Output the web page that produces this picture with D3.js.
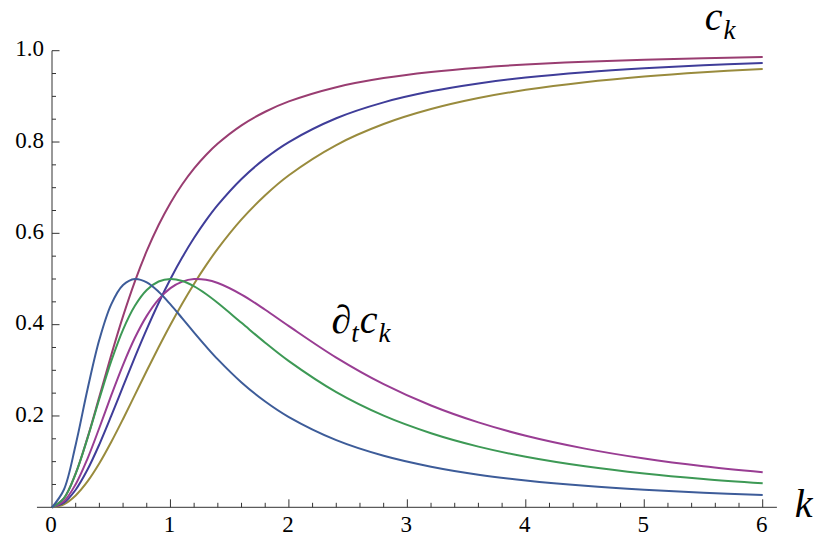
<!DOCTYPE html>
<html>
<head>
<meta charset="utf-8">
<script src="https://cdn.jsdelivr.net/npm/d3@7"></script>
</head>
<body style="margin:0;background:#fff">
<div id="wrap" style="position:relative;width:814px;height:536px;overflow:hidden">
<svg id="chart" width="814" height="536" style="position:absolute;left:0;top:0;display:block"></svg>
<div class="xlab" style="position:absolute;white-space:nowrap;font-family:'Liberation Serif';font-size:23px;line-height:1">0</div>
<div class="xlab" style="position:absolute;white-space:nowrap;font-family:'Liberation Serif';font-size:23px;line-height:1">1</div>
<div class="xlab" style="position:absolute;white-space:nowrap;font-family:'Liberation Serif';font-size:23px;line-height:1">2</div>
<div class="xlab" style="position:absolute;white-space:nowrap;font-family:'Liberation Serif';font-size:23px;line-height:1">3</div>
<div class="xlab" style="position:absolute;white-space:nowrap;font-family:'Liberation Serif';font-size:23px;line-height:1">4</div>
<div class="xlab" style="position:absolute;white-space:nowrap;font-family:'Liberation Serif';font-size:23px;line-height:1">5</div>
<div class="xlab" style="position:absolute;white-space:nowrap;font-family:'Liberation Serif';font-size:23px;line-height:1">6</div>
<div class="ylab" style="position:absolute;white-space:nowrap;font-family:'Liberation Serif';font-size:23px;line-height:1">0.2</div>
<div class="ylab" style="position:absolute;white-space:nowrap;font-family:'Liberation Serif';font-size:23px;line-height:1">0.4</div>
<div class="ylab" style="position:absolute;white-space:nowrap;font-family:'Liberation Serif';font-size:23px;line-height:1">0.6</div>
<div class="ylab" style="position:absolute;white-space:nowrap;font-family:'Liberation Serif';font-size:23px;line-height:1">0.8</div>
<div class="ylab" style="position:absolute;white-space:nowrap;font-family:'Liberation Serif';font-size:23px;line-height:1">1.0</div>
<div id="lab-ck" style="position:absolute;white-space:nowrap;font-family:'Liberation Serif';font-style:italic;font-size:40px;line-height:1">c<span style="position:relative;top:9px;font-size:27px;margin-left:1px">k</span></div>
<div id="lab-dtck" style="position:absolute;white-space:nowrap;font-family:'Liberation Serif';font-style:italic;font-size:40px;line-height:1">∂<span style="position:relative;top:9px;font-size:27px">t</span><span style="margin-left:1px">c</span><span style="position:relative;top:9px;font-size:27px;margin-left:1px">k</span></div>
<div id="lab-k" style="position:absolute;white-space:nowrap;font-family:'Liberation Serif';font-style:italic;font-size:40px;line-height:1">k</div>
</div>
<script>
// k values (x axis)
const kValues = [0, 0.1, 0.2, 0.3, 0.4, 0.5, 0.6, 0.7, 0.8, 0.9, 1.0, 1.1, 1.2, 1.3, 1.4,
  1.6, 1.8, 2.0, 2.4, 2.8, 3.2, 3.6, 4.0, 4.5, 5.0, 5.5, 6.0];

// c_k curves
const ckMagenta = [0, 0.0196, 0.0741, 0.1525, 0.2424, 0.3333, 0.4186, 0.4949, 0.5614, 0.6183, 0.6667,
  0.7076, 0.7423, 0.7717, 0.7967, 0.8366, 0.8663, 0.8889, 0.9201, 0.9400, 0.9534, 0.9629, 0.9697,
  0.9759, 0.9804, 0.9837, 0.9863];
const ckBlue = [0, 0.0099, 0.0385, 0.0826, 0.1379, 0.2, 0.2647, 0.3289, 0.3902, 0.4475, 0.5,
  0.5475, 0.5902, 0.6283, 0.6622, 0.7191, 0.7642, 0.8, 0.8521, 0.8869, 0.9110, 0.9284, 0.9412,
  0.9529, 0.9615, 0.9680, 0.9730];
const ckOlive = [0, 0.0066, 0.0260, 0.0566, 0.0964, 0.1429, 0.1935, 0.2462, 0.2991, 0.3506, 0.4,
  0.4465, 0.4898, 0.5298, 0.5665, 0.6305, 0.6835, 0.7273, 0.7934, 0.8394, 0.8722, 0.8963, 0.9143,
  0.9310, 0.9434, 0.9528, 0.9600];

// ∂t c_k curves
const dtBlue = [0, 0.0384, 0.1372, 0.2585, 0.3673, 0.4444, 0.4867, 0.4999, 0.4925, 0.4720, 0.4444,
  0.4138, 0.3826, 0.3524, 0.3239, 0.2734, 0.2316, 0.1975, 0.1470, 0.1128, 0.0889, 0.0714, 0.0588,
  0.0470, 0.0384, 0.0321, 0.0270];
const dtGreen = [0, 0.0196, 0.0740, 0.1516, 0.2378, 0.32, 0.3893, 0.4414, 0.4759, 0.4945, 0.5,
  0.4955, 0.4837, 0.4671, 0.4474, 0.4040, 0.3604, 0.32, 0.2521, 0.2006, 0.1622, 0.1329, 0.1107,
  0.0898, 0.0740, 0.0620, 0.0525];
const dtPurple = [0, 0.0131, 0.0506, 0.1068, 0.1742, 0.2450, 0.3121, 0.3712, 0.4193, 0.4554, 0.48,
  0.4943, 0.4998, 0.4982, 0.4912, 0.4659, 0.4327, 0.3967, 0.3278, 0.2696, 0.2229, 0.1859, 0.1567,
  0.1285, 0.1068, 0.0899, 0.0768];

const xTicks = [0, 1, 2, 3, 4, 5, 6];
const yTicks = [0.2, 0.4, 0.6, 0.8, 1.0];

const series = [
  { values: ckOlive, color: "#998b3d" },
  { values: ckBlue, color: "#3f3d99" },
  { values: ckMagenta, color: "#993d71" },
  { values: dtPurple, color: "#993d93" },
  { values: dtGreen, color: "#3d9955" },
  { values: dtBlue, color: "#3d5c99" }
];

const svg = d3.select("#chart");
const wrap = d3.select("#wrap");
const x = d3.scaleLinear().domain([0, 6]).range([52, 762.7]);
const y = d3.scaleLinear().domain([0, 1]).range([507.3, 50.7]);

const axisColor = "#333";

// axis lines
svg.append("line")
  .attr("x1", x(-0.127)).attr("x2", x(6.12))
  .attr("y1", y(0)).attr("y2", y(0))
  .attr("stroke", axisColor).attr("stroke-width", 1);
svg.append("line")
  .attr("x1", x(0)).attr("x2", x(0))
  .attr("y1", y(0)).attr("y2", y(1))
  .attr("stroke", axisColor).attr("stroke-width", 1);

// ticks (inward, Mathematica style)
const xMinor = d3.range(1, 30).map(i => i * 0.2).filter(v => Math.abs(v - Math.round(v)) > 1e-6);
const yMinor = d3.range(1, 20).map(i => i * 0.05).filter(v => Math.abs(v * 5 - Math.round(v * 5)) > 1e-6);

svg.append("g").selectAll("line")
  .data(xMinor)
  .join("line")
  .attr("x1", d => x(d)).attr("x2", d => x(d))
  .attr("y1", y(0)).attr("y2", y(0) - 4.5)
  .attr("stroke", axisColor);

svg.append("g").selectAll("line")
  .data(xTicks.filter(d => d > 0))
  .join("line")
  .attr("x1", d => x(d)).attr("x2", d => x(d))
  .attr("y1", y(0)).attr("y2", y(0) - 8)
  .attr("stroke", axisColor);

svg.append("g").selectAll("line")
  .data(yMinor)
  .join("line")
  .attr("x1", x(0)).attr("x2", x(0) + 4)
  .attr("y1", d => y(d)).attr("y2", d => y(d))
  .attr("stroke", axisColor);

svg.append("g").selectAll("line")
  .data(yTicks)
  .join("line")
  .attr("x1", x(0)).attr("x2", x(0) + 7.5)
  .attr("y1", d => y(d)).attr("y2", d => y(d))
  .attr("stroke", axisColor);

// curves
const line = d3.line()
  .curve(d3.curveCatmullRom)
  .x((d, i) => x(kValues[i]))
  .y(d => y(d));

svg.append("g").selectAll("path")
  .data(series)
  .join("path")
  .attr("fill", "none")
  .attr("stroke", d => d.color)
  .attr("stroke-width", 2)
  .attr("d", d => line(d.values));

// place the html labels by baseline (line-height 1, Liberation Serif metrics)
function baseTop(baseline, size) {
  return baseline - size * ((1 - 1.107) / 2 + 0.891);
}

wrap.selectAll(".xlab")
  .data(xTicks)
  .style("left", d => (x(d) - 1) + "px")
  .style("top", baseTop(y(0) + 24.5, 23) + "px")
  .style("transform", "translateX(-50%)");

wrap.selectAll(".ylab")
  .data(yTicks)
  .style("left", (x(0) - 8) + "px")
  .style("top", d => baseTop(y(d) + 6, 23) + "px")
  .style("transform", "translateX(-100%)");

wrap.select("#lab-ck")
  .style("left", x(5.51) + "px")
  .style("top", baseTop(y(1.044), 40) + "px");
wrap.select("#lab-dtck")
  .style("left", x(2.36) + "px")
  .style("top", baseTop(y(0.381), 40) + "px");
wrap.select("#lab-k")
  .style("left", x(6.27) + "px")
  .style("top", baseTop(y(-0.023), 40) + "px");
</script>
</body>
</html>
